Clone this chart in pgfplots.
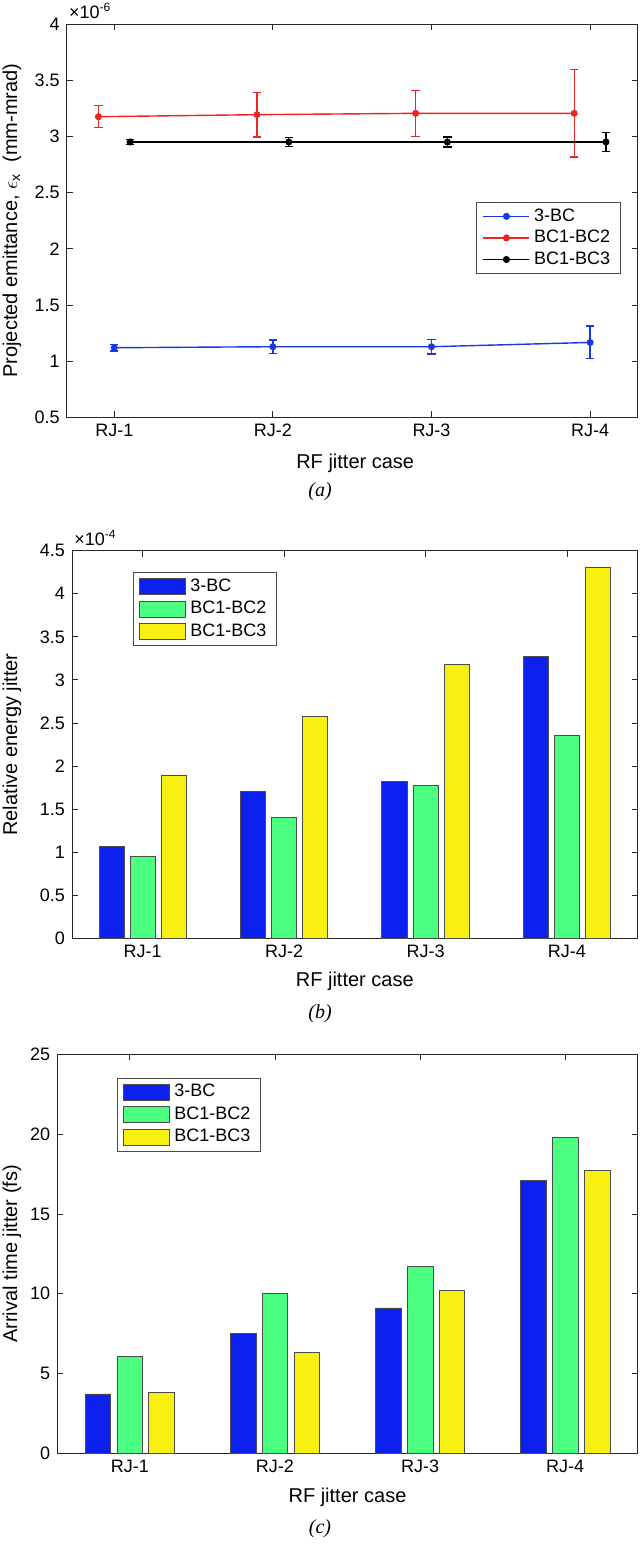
\documentclass[border=0pt]{standalone}
\usepackage{pgfplots}
\pgfplotsset{compat=1.18}
\usepackage{fontspec}
\setmainfont{Liberation Sans}
\newfontfamily\serifit{Liberation Serif}
\definecolor{lblue}{RGB}{24,56,232}
\definecolor{lred}{RGB}{236,36,36}
\definecolor{bblue}{RGB}{12,32,240}
\definecolor{bgreen}{RGB}{76,255,128}
\definecolor{byellow}{RGB}{248,240,16}
\definecolor{axgray}{RGB}{38,38,38}
\pgfplotsset{
  mystyle/.style={
    scale only axis,
    axis line style={axgray, line width=0.4pt},
    tick style={axgray, line width=0.4pt},
    tick align=inside,
    xtick pos=both, ytick pos=both,
    major tick length=3pt,
    ticklabel style={font=\fontsize{9}{10}\selectfont, text=black},
    /pgf/number format/assume math mode=true,
    yticklabel style={/pgf/number format/fixed},
    xtick={1,2,3,4},
    xticklabels={RJ-1,RJ-2,RJ-3,RJ-4},
    legend style={font=\fontsize{9}{11}\selectfont, draw=black!70, line width=0.4pt, inner xsep=3pt, inner ysep=1pt},
    legend cell align=left,
    clip=false,
  },
}
\newcommand{\labfont}{\fontsize{10}{12}\selectfont}
\begin{document}
\begin{tikzpicture}
\path[use as bounding box] (0,0) rectangle (320pt,782.5pt);

% ---------- (a) ----------
\begin{axis}[mystyle,
  at={(33.35pt,573.85pt)}, anchor=south west,
  width=285.5pt, height=196.65pt,
  xmin=0.7, xmax=4.3, ymin=0.5, ymax=4,
  ytick={0.5,1,...,4},
  legend style={at={(rel axis cs:0.97,0.547)}, anchor=north east, row sep=-1pt},
  legend image code/.code={\draw[mark repeat=2,mark phase=2,#1] plot coordinates {(0pt,0pt) (11.5pt,0pt) (23pt,0pt)};},
]
\addplot[lblue, line width=0.7pt, mark=*, mark size=1.4pt, mark options={fill=lblue, draw=lblue},
  error bars/.cd, y dir=both, y explicit, error bar style={line width=0.7pt}, error mark options={rotate=90, mark size=2.1pt, line width=0.7pt}]
  coordinates {(1,1.119) +- (0,0.030) (2,1.128) +- (0,0.061) (3,1.128) +- (0,0.065) (4,1.166) +- (0,0.145)};
\addlegendentry{3-BC}
\addplot[lred, line width=0.7pt, mark=*, mark size=1.4pt, mark options={fill=lred, draw=lred},
  error bars/.cd, y dir=both, y explicit, error bar style={line width=0.7pt}, error mark options={rotate=90, mark size=2.1pt, line width=0.7pt}]
  coordinates {(0.9,3.175) +- (0,0.098) (1.9,3.193) +- (0,0.199) (2.9,3.205) +- (0,0.205) (3.9,3.205) +- (0,0.390)};
\addlegendentry{BC1-BC2}
\addplot[black, line width=0.7pt, mark=*, mark size=1.4pt, mark options={fill=black, draw=black},
  error bars/.cd, y dir=both, y explicit, error bar style={line width=0.7pt}, error mark options={rotate=90, mark size=2.1pt, line width=0.7pt}]
  coordinates {(1.1,2.95) +- (0,0.024) (2.1,2.95) +- (0,0.042) (3.1,2.95) +- (0,0.045) (4.1,2.95) +- (0,0.083)};
\addlegendentry{BC1-BC3}
\node[anchor=base west, font=\fontsize{9}{10}\selectfont, inner sep=0pt] at (rel axis cs:0,1) [xshift=1pt, yshift=2.5pt] {×10\textsuperscript{-6}};
\end{axis}
\node[font=\labfont] at (177.6pt,551pt) {RF jitter case};
\node[font=\labfont\serifit\itshape] at (160pt,536.65pt) {(a)};
\node[font=\labfont, rotate=90] at (6pt,672.2pt) {Projected emittance, $\epsilon$\textsubscript{x}\ \ (mm-mrad)};

% ---------- (b) ----------
\begin{axis}[mystyle,
  at={(36pt,313.35pt)}, anchor=south west,
  width=282.85pt, height=193.8pt,
  xmin=0.5, xmax=4.5, ymin=0, ymax=4.5,
  ytick={0,0.5,...,4.5},
  legend style={at={(rel axis cs:0.108,0.944)}, anchor=north west, row sep=-0.5pt},
  legend image code/.code={\draw[#1,line width=0.4pt] (0pt,-4pt) rectangle (23pt,4pt);},
]
\addplot[ybar, bar width=0.178, bar shift=-0.22, fill=bblue, draw=black!70, line width=0.4pt]
  coordinates {(1,1.069) (2,1.703) (3,1.819) (4,3.275)};
\addlegendentry{3-BC}
\addplot[ybar, bar width=0.178, bar shift=0, fill=bgreen, draw=black!70, line width=0.4pt]
  coordinates {(1,0.949) (2,1.404) (3,1.771) (4,2.353)};
\addlegendentry{BC1-BC2}
\addplot[ybar, bar width=0.178, bar shift=0.22, fill=byellow, draw=black!70, line width=0.4pt]
  coordinates {(1,1.891) (2,2.581) (3,3.183) (4,4.304)};
\addlegendentry{BC1-BC3}
\node[anchor=base west, font=\fontsize{9}{10}\selectfont, inner sep=0pt] at (rel axis cs:0,1) [xshift=1pt, yshift=2.5pt] {×10\textsuperscript{-4}};
\end{axis}
\node[font=\labfont] at (177.4pt,291.65pt) {RF jitter case};
\node[font=\labfont\serifit\itshape] at (160pt,275.85pt) {(b)};
\node[font=\labfont, rotate=90] at (6pt,410.25pt) {Relative energy jitter};

% ---------- (c) ----------
\begin{axis}[mystyle,
  at={(28.65pt,55.85pt)}, anchor=south west,
  width=290.2pt, height=199.5pt,
  xmin=0.5, xmax=4.5, ymin=0, ymax=25,
  ytick={0,5,...,25},
  legend style={at={(rel axis cs:0.103,0.941)}, anchor=north west, row sep=-0.5pt},
  legend image code/.code={\draw[#1,line width=0.4pt] (0pt,-4pt) rectangle (23pt,4pt);},
]
\addplot[ybar, bar width=0.178, bar shift=-0.22, fill=bblue, draw=black!70, line width=0.4pt]
  coordinates {(1,3.72) (2,7.49) (3,9.11) (4,17.07)};
\addlegendentry{3-BC}
\addplot[ybar, bar width=0.178, bar shift=0, fill=bgreen, draw=black!70, line width=0.4pt]
  coordinates {(1,6.09) (2,10.01) (3,11.72) (4,19.80)};
\addlegendentry{BC1-BC2}
\addplot[ybar, bar width=0.178, bar shift=0.22, fill=byellow, draw=black!70, line width=0.4pt]
  coordinates {(1,3.81) (2,6.31) (3,10.22) (4,17.73)};
\addlegendentry{BC1-BC3}
\end{axis}
\node[font=\labfont] at (173.75pt,33.85pt) {RF jitter case};
\node[font=\labfont\serifit\itshape] at (160pt,18.35pt) {(c)};
\node[font=\labfont, rotate=90] at (6pt,155.6pt) {Arrival time jitter (fs)};
\end{tikzpicture}
\end{document}
